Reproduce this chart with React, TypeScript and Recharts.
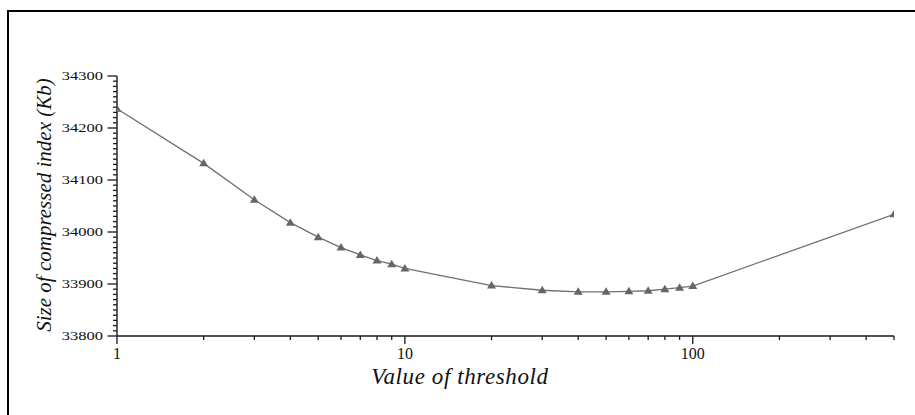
import React from "react";
import { LineChart, Line, XAxis, YAxis } from "recharts";

// threshold value vs compressed index size (Kb)
const thresholds = [1, 2, 3, 4, 5, 6, 7, 8, 9, 10, 20, 30, 40, 50, 60, 70, 80, 90, 100, 500];
const sizes = [
  34237, 34132, 34062, 34018, 33990, 33970, 33956, 33945, 33938, 33930,
  33897, 33888, 33885, 33885, 33886, 33887, 33890, 33893, 33896, 34034,
];

const xMajorTicks = [1, 10, 100];
const xMinorTicks = [2, 3, 4, 5, 6, 7, 8, 9, 20, 30, 40, 50, 60, 70, 80, 90, 200, 300, 400, 500];
const yMajorTicks = [33800, 33900, 34000, 34100, 34200, 34300];

const yAllTicks: number[] = [];
for (let v = 33800; v <= 34300; v += 10) yAllTicks.push(v);

const data = thresholds.map((t, i) => ({ t, size: sizes[i] }));

const SERIF = '"Liberation Serif", "DejaVu Serif", serif';
const AXIS = "#1a1a1a";
const GREY = "#666666";

const XTick = (props: any) => {
  const { x, y, payload } = props;
  const major = xMajorTicks.includes(payload.value);
  return (
    <g>
      <line x1={x} x2={x} y1={y} y2={y + (major ? 8 : 4)} stroke={AXIS} strokeWidth={1.3} />
      {major && (
        <text x={x} y={y + 23} textAnchor="middle" style={{ fontFamily: SERIF, fontSize: 16 }} fill="#111">
          {payload.value}
        </text>
      )}
    </g>
  );
};

const YTick = (props: any) => {
  const { x, y, payload } = props;
  const major = yMajorTicks.includes(payload.value);
  return (
    <g>
      <line x1={x - (major ? 9.5 : 4)} x2={x} y1={y} y2={y} stroke={AXIS} strokeWidth={1.3} />
      {major && (
        <text
          transform={`translate(${x - 14},${y + 4}) scale(1.32,1)`}
          textAnchor="end"
          style={{ fontFamily: SERIF, fontSize: 12.5 }}
          fill="#111"
        >
          {payload.value}
        </text>
      )}
    </g>
  );
};

const Triangle = (props: any) => {
  const { cx, cy } = props;
  if (cx == null || cy == null) return null;
  return <polygon points={`${cx - 4.5},${cy + 3} ${cx + 4.5},${cy + 3} ${cx},${cy - 4.5}`} fill={GREY} />;
};

export default function App() {
  return (
    <div
      style={{
        position: "absolute", left: 0, top: 0, width: 915, height: 415, overflow: "hidden",
        background: "#fff", fontFamily: SERIF,
      }}
    >
      <div
        style={{
          position: "absolute", left: 7, top: 10, width: 960, height: 460,
          borderLeft: "2.3px solid #000", borderTop: "2.3px solid #000",
        }}
      />
      <LineChart width={915} height={415} data={data} margin={{ top: 76, right: 21, left: 0, bottom: 0 }}>
        <XAxis
          dataKey="t"
          type="number"
          scale="log"
          domain={[1, 500]}
          ticks={[...xMajorTicks, ...xMinorTicks]}
          interval={0}
          tick={<XTick />}
          tickLine={false}
          tickSize={0}
          tickMargin={0}
          height={79}
          axisLine={{ stroke: AXIS, strokeWidth: 1.4 }}
          allowDataOverflow
        />
        <YAxis
          type="number"
          domain={[33800, 34300]}
          ticks={yAllTicks}
          interval={0}
          tick={<YTick />}
          tickLine={false}
          tickSize={0}
          tickMargin={0}
          width={117}
          axisLine={{ stroke: AXIS, strokeWidth: 1.4 }}
          allowDataOverflow
        />
        <Line
          dataKey="size"
          stroke="#707070"
          strokeWidth={1.3}
          dot={<Triangle />}
          activeDot={false}
          isAnimationActive={false}
        />
      </LineChart>
      <div
        style={{
          position: "absolute", left: 460, top: 388, transform: "translate(-50%, -100%)",
          fontFamily: SERIF, fontStyle: "italic", fontSize: 23, letterSpacing: 0.6,
          whiteSpace: "nowrap", lineHeight: 1, color: "#111",
        }}
      >
        Value of threshold
      </div>
      <div
        style={{
          position: "absolute", left: 44, top: 205, transform: "translate(-50%, -50%) rotate(-90deg)",
          fontFamily: SERIF, fontStyle: "italic", fontSize: 21,
          whiteSpace: "nowrap", lineHeight: 1, color: "#111",
        }}
      >
        Size of compressed index (Kb)
      </div>
    </div>
  );
}
